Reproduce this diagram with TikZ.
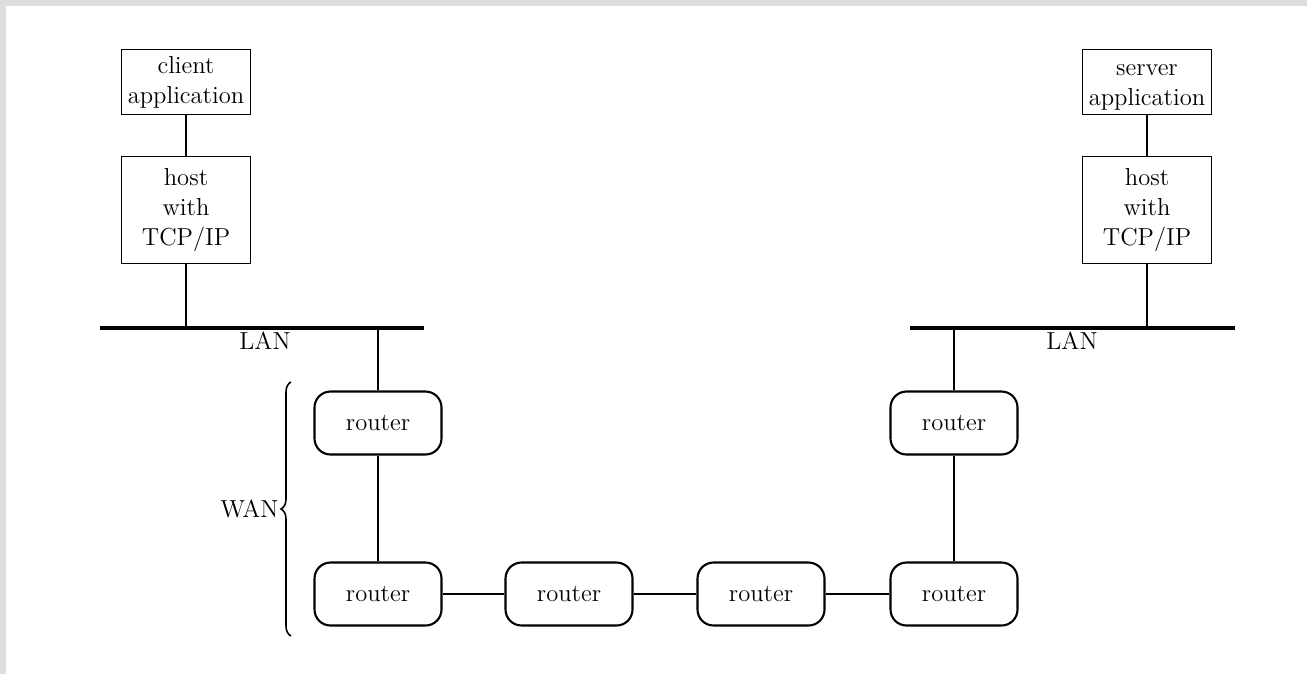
\documentclass[tikz,border=0pt]{standalone}
\usepackage{tikz}
\usetikzlibrary{positioning,decorations.pathreplacing}
\begin{document}
\begin{tikzpicture}[x=0.02cm,y=-0.02cm]
      \tikzstyle{every node}=[font=\fontsize{14}{17}\selectfont]
      \tikzstyle{appbox}=[draw,line width=1pt,minimum width=2.58cm,minimum height=1.3cm,align=center,inner sep=0pt]
      \tikzstyle{hostbox}=[appbox,minimum height=2.14cm]
      \tikzstyle{router}=[draw,line width=1.2pt,rounded corners=0.32cm,minimum width=2.54cm,minimum height=1.26cm]
      \tikzstyle{lan}=[line width=2.8pt]
      \tikzstyle{wire}=[line width=0.9pt]
      % frame
      \fill[black!13] (0,0) rectangle (1307,674);
      \fill[white] (6,6) rectangle (1307,674);
      % client side
      \node[appbox] (capp) at (186,82) {client\\application};
      \node[hostbox] (chost) at (186,210) {host\\with\\TCP/IP};
      \coordinate (lanLa) at (100,328);
      \coordinate (lanLb) at (424,328);
      \draw[lan] (lanLa) -- (lanLb);
      \node (lanL) at (265,341) {LAN};
      % server side
      \node[appbox] (sapp) at (1147,82) {\strut server\\application};
      \node[hostbox] (shost) at (1147,210) {host\\with\\TCP/IP};
      \coordinate (lanRa) at (910,328);
      \coordinate (lanRb) at (1235,328);
      \draw[lan] (lanRa) -- (lanRb);
      \node (lanR) at (1072,341) {LAN};
      % routers
      \node[router] (r1) at (378,423) {router};
      \node[router] (r2) at (378,594) {router};
      \node[router] (r3) at (569,594) {router};
      \node[router] (r4) at (761,594) {router};
      \node[router] (r5) at (954,594) {router};
      \node[router] (r6) at (954,423) {router};
      % wires
      \draw[wire] (capp) -- (chost);
      \draw[wire] (chost) -- (chost |- lanLa);
      \draw[wire] (sapp) -- (shost);
      \draw[wire] (shost) -- (shost |- lanRa);
      \draw[wire] (r1 |- lanLa) -- (r1);
      \draw[wire] (r6 |- lanRa) -- (r6);
      \draw[wire] (r1) -- (r2) (r2) -- (r3) (r3) -- (r4) (r4) -- (r5) (r5) -- (r6);
      % WAN brace
      \coordinate (wanb) at (291,636);
      \coordinate (want) at (291,382);
      \draw[wire,decorate,decoration={brace,amplitude=0.2cm}] (wanb) -- (want)
        node[midway,left=0.2cm,inner sep=1pt] (wan) {WAN};
\end{tikzpicture}
\end{document}
